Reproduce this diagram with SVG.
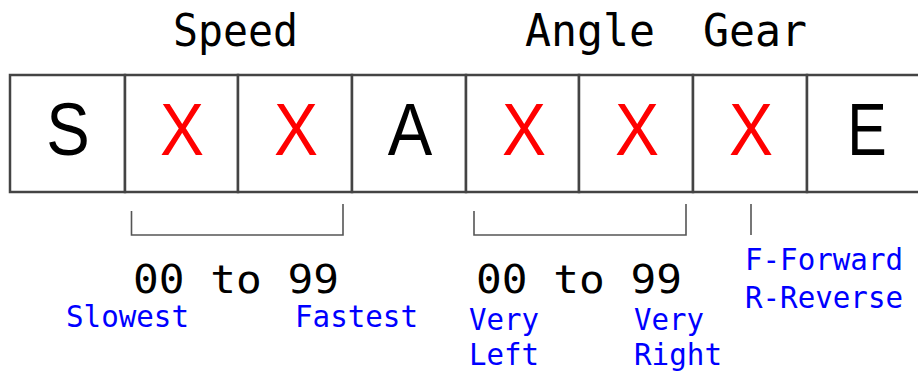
<svg xmlns="http://www.w3.org/2000/svg" width="918" height="372" viewBox="0 0 918 372">
<style>
.cell{fill:#fff;stroke:#444;stroke-width:2.5}
.big{font-family:"Liberation Sans",Arial,sans-serif;font-size:74px;text-anchor:middle}
.blk{fill:#000}
.red{fill:#ff0000}
.hdr{font-family:"DejaVu Sans Mono","Liberation Mono",monospace;font-size:44px;fill:#000}
.rng{font-family:"DejaVu Sans Mono","Liberation Mono",monospace;font-size:39px;fill:#000}
.lbl{font-family:"DejaVu Sans Mono","Liberation Mono",monospace;font-size:30px;fill:#0000ff}
.br{fill:none;stroke:#555;stroke-width:1.6}
</style>
<rect width="918" height="372" fill="#fff"/>
<g id="headers">
<text class="hdr" x="173" y="46" textLength="125" lengthAdjust="spacingAndGlyphs">Speed</text>
<text class="hdr" x="525" y="46" textLength="130" lengthAdjust="spacingAndGlyphs">Angle</text>
<text class="hdr" x="703" y="46" textLength="104" lengthAdjust="spacingAndGlyphs">Gear</text>
</g>
<g id="cell-s"><rect class="cell" x="10" y="75" width="115" height="117"/><text class="big blk" x="68" y="155" textLength="43.5" lengthAdjust="spacingAndGlyphs">S</text></g>
<g id="cell-x1"><rect class="cell" x="125" y="75" width="113" height="117"/><text class="big red" x="182" y="155" textLength="44" lengthAdjust="spacingAndGlyphs">X</text></g>
<g id="cell-x2"><rect class="cell" x="238" y="75" width="114" height="117"/><text class="big red" x="296" y="155" textLength="44" lengthAdjust="spacingAndGlyphs">X</text></g>
<g id="cell-a"><rect class="cell" x="352" y="75" width="114" height="117"/><text class="big blk" x="410" y="155" textLength="44.5" lengthAdjust="spacingAndGlyphs">A</text></g>
<g id="cell-x3"><rect class="cell" x="466" y="75" width="113" height="117"/><text class="big red" x="524" y="155" textLength="44" lengthAdjust="spacingAndGlyphs">X</text></g>
<g id="cell-x4"><rect class="cell" x="579" y="75" width="114" height="117"/><text class="big red" x="637" y="155" textLength="44" lengthAdjust="spacingAndGlyphs">X</text></g>
<g id="cell-x5"><rect class="cell" x="693" y="75" width="114" height="117"/><text class="big red" x="751" y="155" textLength="44" lengthAdjust="spacingAndGlyphs">X</text></g>
<g id="cell-e"><rect class="cell" x="807" y="75" width="130" height="117"/><text class="big blk" x="867" y="155" textLength="39.5" lengthAdjust="spacingAndGlyphs">E</text></g>
<g id="connectors">
<path class="br" d="M131.5,211 V235 H343 V204"/>
<path class="br" d="M474,211 V235 H686 V204"/>
<path class="br" d="M751,204 V235"/>
</g>
<g id="speed-range">
<text class="rng" x="133" y="293" textLength="206" lengthAdjust="spacingAndGlyphs">00 to 99</text>
<text class="lbl" x="66" y="327" textLength="123" lengthAdjust="spacingAndGlyphs">Slowest</text>
<text class="lbl" x="295" y="327" textLength="123" lengthAdjust="spacingAndGlyphs">Fastest</text>
</g>
<g id="angle-range">
<text class="rng" x="476" y="293" textLength="206" lengthAdjust="spacingAndGlyphs">00 to 99</text>
<text class="lbl" x="469" y="330" textLength="70" lengthAdjust="spacingAndGlyphs">Very</text>
<text class="lbl" x="469" y="365" textLength="70" lengthAdjust="spacingAndGlyphs">Left</text>
<text class="lbl" x="634" y="330" textLength="70" lengthAdjust="spacingAndGlyphs">Very</text>
<text class="lbl" x="634" y="365" textLength="88" lengthAdjust="spacingAndGlyphs">Right</text>
</g>
<g id="gear-values">
<text class="lbl" x="745" y="270" textLength="158" lengthAdjust="spacingAndGlyphs">F-Forward</text>
<text class="lbl" x="745" y="308" textLength="158" lengthAdjust="spacingAndGlyphs">R-Reverse</text>
</g>
</svg>
